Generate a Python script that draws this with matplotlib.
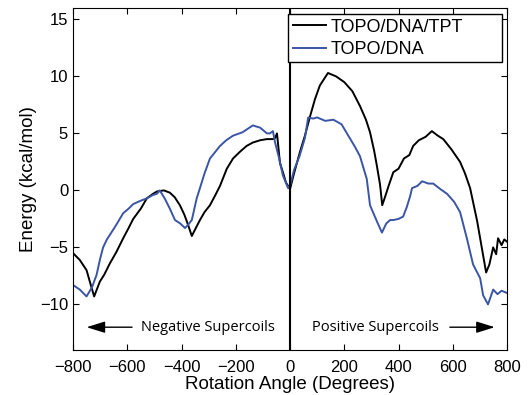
import numpy as np
import matplotlib
matplotlib.use("Agg")
import matplotlib.pyplot as plt
from matplotlib.patches import Rectangle

plt.rcParams['font.family'] = ['Liberation Sans', 'DejaVu Sans']

# TOPO/DNA/TPT (black)
tpt_x = [-800, -775, -750, -738, -722, -701, -685, -664, -640, -615, -595, -578,
         -550, -528, -505, -491, -465, -443, -425, -406, -390, -376, -362, -345,
         -332, -315, -295, -275, -258, -233, -210, -184, -160, -137, -110, -85,
         -63, -55, -48, -37, -25, -15, 0,
         15, 37, 55, 74, 92, 110, 140, 170, 200, 230, 258, 280, 295, 310, 320,
         332, 340, 350, 365, 381, 400, 420, 440, 454, 475, 500, 523, 545, 565,
         595, 627, 645, 664, 690, 712, 723, 735, 749, 760, 767, 780, 790, 800]
tpt_y = [-5.5, -6.1, -7.0, -8.0, -9.3, -8.0, -7.4, -6.4, -5.4, -4.2, -3.3, -2.5,
         -1.6, -0.7, -0.3, -0.1, 0.0, -0.2, -0.6, -1.3, -2.1, -3.0, -4.0, -3.2,
         -2.6, -1.9, -1.3, -0.4, 0.4, 1.9, 2.8, 3.4, 3.9, 4.2, 4.4, 4.5,
         4.5, 4.6, 5.0, 2.4, 1.5, 0.7, 0.1,
         1.5, 3.4, 4.8, 6.5, 8.0, 9.2, 10.3, 10.0, 9.5, 8.7, 7.4, 6.2, 5.1, 3.5, 2.2,
         0.5, -1.3, -0.6, 0.5, 1.6, 1.9, 2.8, 3.1, 3.9, 4.4, 4.7, 5.2, 4.8, 4.5,
         3.6, 2.5, 1.5, 0.2, -2.7, -5.7, -7.2, -6.5, -5.0, -5.6, -4.2, -4.8, -4.3, -4.5]

# TOPO/DNA (blue)
dna_x = [-800, -775, -750, -730, -713, -700, -689, -675, -664, -640, -615, -595,
         -578, -550, -528, -505, -491, -480, -462, -443, -424, -405, -387, -375,
         -362, -344, -332, -315, -295, -258, -235, -210, -175, -137, -110, -85,
         -74, -63, -55, -40, -26, -7, 0,
         15, 35, 55, 67, 85, 100, 130, 160, 190, 215, 240, 258, 283, 295, 320,
         339, 355, 369, 381, 400, 417, 430, 443, 450, 470, 487, 510, 528, 555,
         579, 605, 627, 652, 675, 701, 712, 730, 749, 765, 780, 800]
dna_y = [-8.3, -8.7, -9.3, -8.5, -7.4, -6.0, -5.0, -4.3, -3.9, -3.0, -2.0, -1.6,
         -1.2, -0.9, -0.7, -0.4, -0.3, 0.0, -0.7, -1.6, -2.6, -2.9, -3.3, -3.0,
         -2.6, -0.7, 0.2, 1.5, 2.8, 3.9, 4.4, 4.8, 5.1, 5.7, 5.5, 5.0,
         5.0, 5.2, 4.2, 2.8, 1.3, 0.2, 0.4,
         1.8, 3.0, 4.6, 6.4, 6.3, 6.4, 6.1, 6.2, 5.8, 4.8, 3.8, 3.0, 1.0, -1.3, -2.7,
         -3.7, -2.9, -2.6, -2.6, -2.5, -2.3, -1.5, -0.5, 0.2, 0.4, 0.8, 0.6, 0.6, 0.1,
         -0.3, -1.0, -1.9, -4.2, -6.5, -7.7, -9.2, -10.0, -8.7, -9.1, -8.8, -9.0]

xticks = [-800, -600, -400, -200, 0, 200, 400, 600, 800]
yticks = [-10, -5, 0, 5, 10, 15]

fig = plt.figure(figsize=(5.28, 3.95), dpi=100)
ax = fig.add_axes([73 / 528, 45 / 395, 434 / 528, 342 / 395])

ax.plot(tpt_x, tpt_y, color='black', lw=1.4, label='TOPO/DNA/TPT')
ax.plot(dna_x, dna_y, color='#3a55a5', lw=1.4, label='TOPO/DNA')
ax.axvline(0, color='black', lw=1.5)

ax.set_xlim(-800, 800)
ax.set_ylim(-14, 16)
ax.set_xticks(xticks)
ax.set_yticks(yticks)
ax.set_xticklabels([f'\u2212{-t}' if t < 0 else str(t) for t in xticks])
ax.set_yticklabels([f'\u2212{-t}' if t < 0 else str(t) for t in yticks])
ax.tick_params(direction='in', top=True, right=True, labelsize=12, length=4)
ax.tick_params(axis='x', pad=7)
ax.set_xlabel('Rotation Angle (Degrees)', fontsize=13.5, labelpad=1)
ax.set_ylabel('Energy (kcal/mol)', fontsize=13.5, labelpad=2)

# legend box drawn separately (wide, MATLAB-style frame)
ax.add_patch(Rectangle((0.495, 0.842), 0.493, 0.14, transform=ax.transAxes,
                       facecolor='white', edgecolor='black', lw=1.0, zorder=4))
leg = ax.legend(loc='upper left', bbox_to_anchor=(0.497, 0.982), fontsize=13,
                frameon=False, borderpad=0.25, labelspacing=0.3,
                handlelength=1.8, handletextpad=0.25, borderaxespad=0)
leg.set_zorder(5)

ax.annotate('', xy=(-760, -12), xytext=(-572, -12),
            arrowprops=dict(arrowstyle='-|>,head_length=0.8,head_width=0.25',
                            color='black', lw=1, mutation_scale=14))
ax.text(-548, -12, 'Negative Supercoils', fontsize=10.5, va='center', ha='left',
        family=['Open Sans', 'DejaVu Sans'])
ax.text(80, -12, 'Positive Supercoils', fontsize=10.5, va='center', ha='left',
        family=['Open Sans', 'DejaVu Sans'])
ax.annotate('', xy=(765, -12), xytext=(579, -12),
            arrowprops=dict(arrowstyle='-|>,head_length=0.8,head_width=0.25',
                            color='black', lw=1, mutation_scale=14))

fig.savefig('out.png', dpi=100)
